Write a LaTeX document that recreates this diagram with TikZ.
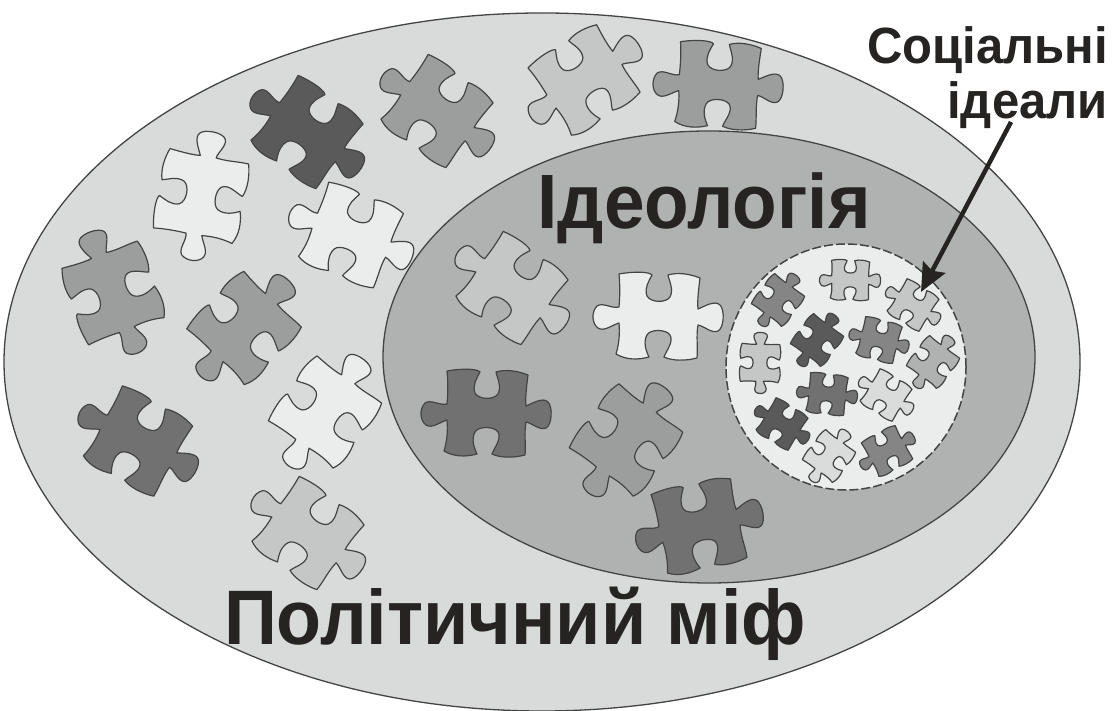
\documentclass[tikz,border=0pt]{standalone}
\usepackage{graphicx}
\usepackage{fontspec}
\setmainfont{Liberation Sans}
\usetikzlibrary{arrows.meta}
\definecolor{ink}{HTML}{262422}
\definecolor{edge}{HTML}{444444}
\definecolor{outerfill}{HTML}{D9DBDB}
\definecolor{innerfill}{HTML}{B0B2B2}
\definecolor{paper}{HTML}{EBEDED}
\definecolor{pa}{HTML}{C5C7C7}
\definecolor{pb}{HTML}{9C9E9E}
\definecolor{pc}{HTML}{717171}
\definecolor{pd}{HTML}{5A5A5A}
\definecolor{pe}{HTML}{858585}
\definecolor{pf}{HTML}{DADCDC}
\tikzset{
  x=1pt,y=1pt,
  blob/.style={draw=edge,line width=1.3pt},
  piecestyle/.style={draw=edge,line width=1.2pt,line join=round},
  caption/.style={text=ink,inner sep=0pt},
}
\newcommand{\piecepath}{
  (-39,42) .. controls (-22,45) and (-8,44) .. (-6,41)
  .. controls (-9,35) and (-14,28) .. (-11,20)
  .. controls (-7,13) and (8,13) .. (12,19)
  .. controls (16,27) and (11,35) .. (10,41)
  .. controls (20,44) and (32,42) .. (42,38)
  .. controls (41,30) and (39,15) .. (40,7)
  .. controls (47,10) and (57,16) .. (62,11)
  .. controls (67,6) and (66,-12) .. (60,-15)
  .. controls (54,-18) and (46,-10) .. (40,-9)
  .. controls (38,-20) and (40,-32) .. (39,-42)
  .. controls (28,-45) and (14,-45) .. (6,-41)
  .. controls (8,-35) and (16,-26) .. (12,-19)
  .. controls (8,-13) and (-8,-13) .. (-11,-19)
  .. controls (-15,-26) and (-12,-35) .. (-9,-41)
  .. controls (-20,-44) and (-32,-44) .. (-42,-38)
  .. controls (-39,-28) and (-38,-18) .. (-39,-7)
  .. controls (-46,-9) and (-54,-16) .. (-60,-12)
  .. controls (-66,-8) and (-67,4) .. (-61,10)
  .. controls (-55,14) and (-46,7) .. (-39,9)
  .. controls (-38,20) and (-38,32) .. (-39,42) -- cycle
}
% x, y (image px), rotation, scale, colour
\newcommand{\piece}[5]{%
  \draw[piecestyle,fill=#5,shift={(#1,{711-#2})},rotate=#3,scale=#4] \piecepath;%
}
\begin{document}
\begin{tikzpicture}
\useasboundingbox (0,0) rectangle (1115,711);
\fill[white] (0,0) rectangle (1115,711);
\draw[blob,fill=outerfill] (542,349) ellipse [x radius=538,y radius=349];
\draw[blob,fill=innerfill] (709,354) ellipse [x radius=326,y radius=226];
\draw[blob,line width=1.5pt,dash pattern=on 9pt off 3pt,fill=paper] (846,344) ellipse [x radius=120,y radius=123];

% outer pieces
\piece{584}{80}{35}{1}{pa}
\piece{718}{85}{-2}{1}{pb}
\piece{437}{111}{-34}{1}{pb}
\piece{307}{132}{-34}{1}{pd}
\piece{351}{235}{-20}{1}{paper}
\piece{201}{196}{81}{1}{paper}
\piece{113}{293}{112}{1}{pb}
\piece{244}{328}{48}{1}{pb}
\piece{325}{412}{56}{1}{paper}
\piece{138}{441}{-27}{1}{pc}
\piece{308}{533}{-34}{1}{pa}
% inner pieces
\piece{512}{288}{-34}{1}{pa}
\piece{658}{316}{0}{1}{paper}
\piece{486}{413}{0}{1}{pc}
\piece{626}{440}{55}{1}{pb}
\piece{699}{526}{14}{1}{pc}
% small pieces
\piece{778}{300}{55}{.47}{pe}
\piece{850}{280}{0}{.47}{pa}
\piece{913}{305}{-30}{.47}{pa}
\piece{817}{340}{55}{.47}{pd}
\piece{879}{340}{-13}{.47}{pe}
\piece{933}{362}{55}{.47}{innerfill}
\piece{760}{363}{90}{.47}{pa}
\piece{827}{394}{-5}{.47}{pc}
\piece{886}{395}{-30}{.47}{pf}
\piece{782}{424}{-30}{.47}{pd}
\piece{829}{456}{55}{.47}{pf}
\piece{887}{451}{30}{.47}{pe}

\node[caption,font=\bfseries\fontsize{73.6}{90}\selectfont,anchor=base] (mif) at (515,66) {\scalebox{1}[1.05]{Політичний міф}};
\node[caption,font=\bfseries\fontsize{73}{90}\selectfont,anchor=base] (ideol) at (704,482) {\scalebox{1}[1.055]{Ідеологія}};
\node[caption,font=\bfseries\fontsize{49}{55}\selectfont,align=right,anchor=north east] (ideals) at (1108,685) {\scalebox{1}[1.04]{Соціальні}\\\scalebox{1}[1.04]{ідеали}};

\coordinate (arrowstart) at (1011,589);
\coordinate (arrowend) at (921,419);
\draw[ink,line width=4.5pt,-{Stealth[length=28pt,width=25pt,inset=4pt]}] (arrowstart) -- (arrowend);
\end{tikzpicture}
\end{document}
